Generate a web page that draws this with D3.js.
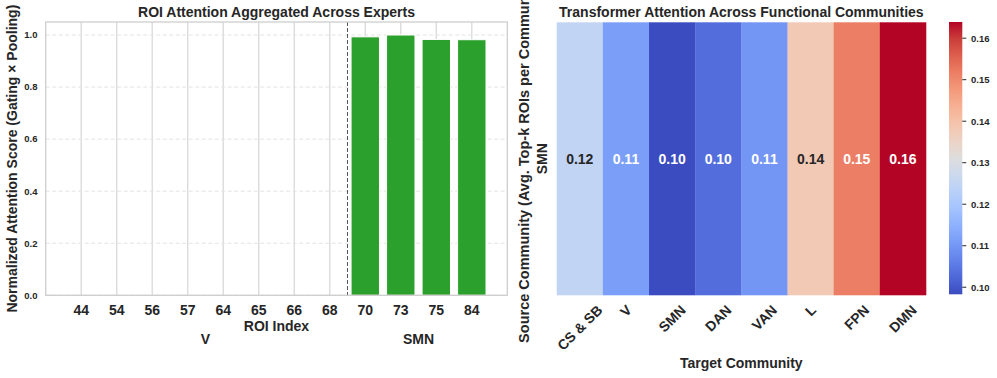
<!DOCTYPE html>
<html><head><meta charset="utf-8">
<title>ROI attention and community attention</title>
<script src="https://cdn.jsdelivr.net/npm/d3@7"></script>
<style>
  body { margin: 0; background: #fff; }
  svg text { font-family: "Liberation Sans", Arial, sans-serif; font-weight: bold; fill: #262626; }
</style>
</head>
<body>
<svg id="fig" width="997" height="378"></svg>
<script>
// ---- data ----
var roiIndex = ["44", "54", "56", "57", "64", "65", "66", "68", "70", "73", "75", "84"];
var roiGroup = ["V", "V", "V", "V", "V", "V", "V", "V", "SMN", "SMN", "SMN", "SMN"];
var roiScore = [0, 0, 0, 0, 0, 0, 0, 0, 0.993, 1.0, 0.983, 0.982];
var yTicksLeft = [0, 0.2, 0.4, 0.6, 0.8, 1.0];

var communities = ["CS & SB", "V", "SMN", "DAN", "VAN", "L", "FPN", "DMN"];
var smnAttention = [0.1249, 0.1114, 0.0983, 0.1034, 0.1098, 0.1379, 0.1516, 0.1639];
var sourceRow = ["SMN"];
var cbarTicks = [0.10, 0.11, 0.12, 0.13, 0.14, 0.15, 0.16];

// matplotlib coolwarm sampled every 1/16
var coolwarm = ["#3b4cc0", "#4e68d8", "#6282ea", "#779af7", "#8db0fe", "#a3c2fe", "#b8d0f9", "#ccd9ee",
  "#dddddd", "#ecd3c5", "#f5c4ad", "#f7b194", "#f49a7b", "#ec7f64", "#de604e", "#cb3e3b", "#b40426"];

var svg = d3.select("#fig");

//begin: left panel (bar chart)
var L = {left: 45.7, right: 507.3, top: 22, bottom: 295.3};
var x = d3.scaleLinear().domain([-1, 12]).range([L.left, L.right]);
var y = d3.scaleLinear().domain([0, 1.05]).range([L.bottom, L.top]);
var left = svg.append("g");

// vertical solid grid
left.selectAll(".vgrid").data(roiIndex).enter().append("line")
  .attr("x1", function(d, i){ return x(i); }).attr("x2", function(d, i){ return x(i); })
  .attr("y1", L.top).attr("y2", L.bottom)
  .attr("stroke", "#d9d9d9").attr("stroke-width", 1.3);
// horizontal dashed grid
left.selectAll(".hgrid").data(yTicksLeft).enter().append("line")
  .attr("x1", L.left).attr("x2", L.right)
  .attr("y1", function(d){ return y(d); }).attr("y2", function(d){ return y(d); })
  .attr("stroke", "#e3e3e3").attr("stroke-width", 1).attr("stroke-dasharray", "4,2.5");

// bars
left.selectAll(".bar").data(roiScore).enter().append("rect")
  .attr("x", function(d, i){ return x(i - 0.4); })
  .attr("width", x(0.8) - x(0))
  .attr("y", function(d){ return y(d); })
  .attr("height", function(d){ return y(0) - y(d); })
  .attr("fill", "#2ca02c").attr("stroke", "#fff").attr("stroke-width", 1);

// group separator
var firstSmn = roiGroup.indexOf("SMN");
left.append("line")
  .attr("x1", x(firstSmn - 0.5)).attr("x2", x(firstSmn - 0.5))
  .attr("y1", L.top).attr("y2", L.bottom)
  .attr("stroke", "#555").attr("stroke-width", 1).attr("stroke-dasharray", "4,2");

// spines
left.append("rect")
  .attr("x", L.left).attr("y", L.top)
  .attr("width", L.right - L.left).attr("height", L.bottom - L.top)
  .attr("fill", "none").attr("stroke", "#cccccc").attr("stroke-width", 1.25);

// ticks
left.selectAll(".xt").data(roiIndex).enter().append("text")
  .attr("x", function(d, i){ return x(i); }).attr("y", 314.5)
  .attr("text-anchor", "middle").style("font-size", "14px").text(function(d){ return d; });
left.selectAll(".yt").data(yTicksLeft).enter().append("text")
  .attr("x", 37.5).attr("y", function(d){ return y(d); }).attr("dy", "0.35em")
  .attr("text-anchor", "end").style("font-size", "9.5px").text(function(d){ return d.toFixed(1); });

// group labels
var groups = Array.from(new Set(roiGroup));
groups.forEach(function(g){
  var idx = roiGroup.map(function(v, i){ return v === g ? i : -1; }).filter(function(i){ return i >= 0; });
  var mid = (d3.min(idx) + d3.max(idx)) / 2;
  left.append("text").attr("x", x(mid)).attr("y", 344.3)
    .attr("text-anchor", "middle").style("font-size", "14px").text(g);
});

left.append("text").attr("x", (L.left + L.right) / 2).attr("y", 331)
  .attr("text-anchor", "middle").style("font-size", "14px").text("ROI Index");
left.append("text").attr("transform", "translate(17.3," + ((L.top + L.bottom) / 2) + ") rotate(-90)")
  .attr("text-anchor", "middle").style("font-size", "14px").text("Normalized Attention Score (Gating \u00d7 Pooling)");
left.append("text").attr("x", (L.left + L.right) / 2).attr("y", 17)
  .attr("text-anchor", "middle").style("font-size", "14px").text("ROI Attention Aggregated Across Experts");
//end: left panel

//begin: right panel (heatmap)
var R = {left: 556.7, right: 926, top: 22.3, bottom: 295.3};
var hx = d3.scaleBand().domain(communities).range([R.left, R.right]);
var hy = d3.scaleBand().domain(sourceRow).range([R.top, R.bottom]);
var ext = d3.extent(smnAttention);
var color = d3.scaleSequential(d3.interpolateRgbBasis(coolwarm)).domain(ext);
var right = svg.append("g");

// relative luminance, used to pick dark or white annotation text
function luminance(c) {
  var rgb = d3.rgb(c);
  var lin = [rgb.r, rgb.g, rgb.b].map(function(v){
    v = v / 255;
    return v <= 0.03928 ? v / 12.92 : Math.pow((v + 0.055) / 1.055, 2.4);
  });
  return 0.2126 * lin[0] + 0.7152 * lin[1] + 0.0722 * lin[2];
}

var cells = communities.map(function(c, i){ return {target: c, source: "SMN", v: smnAttention[i]}; });
right.selectAll(".cell").data(cells).enter().append("rect")
  .attr("x", function(d){ return hx(d.target); })
  .attr("y", function(d){ return hy(d.source); })
  .attr("width", hx.bandwidth() + 0.3).attr("height", hy.bandwidth())
  .attr("fill", function(d){ return color(d.v); });

right.selectAll(".ann").data(cells).enter().append("text")
  .attr("x", function(d){ return hx(d.target) + hx.bandwidth() / 2; })
  .attr("y", function(d){ return hy(d.source) + hy.bandwidth() / 2; })
  .attr("dy", "0.36em").attr("text-anchor", "middle").style("font-size", "14px")
  .style("fill", function(d){ return luminance(color(d.v)) > 0.408 ? "#262626" : "#ffffff"; })
  .text(function(d){ return d.v.toFixed(2); });

// rotated x tick labels, bounding box centred on the tick
right.selectAll(".hxt").data(communities).enter().append("text")
  .attr("text-anchor", "middle").attr("dy", "0.35em").style("font-size", "14px")
  .text(function(d){ return d; })
  .each(function(d){
    var w = this.getComputedTextLength(), h = 10;
    var box = (w + h) / Math.SQRT2;
    d3.select(this).attr("transform", "translate(" + (hx(d) + hx.bandwidth() / 2) + "," + (304 + box / 2) + ") rotate(-45)");
  });

right.append("text").attr("transform", "translate(546.5," + (hy("SMN") + hy.bandwidth() / 2) + ") rotate(-90)")
  .attr("text-anchor", "middle").style("font-size", "14px").text("SMN");
right.append("text").attr("transform", "translate(529.3," + ((R.top + R.bottom) / 2) + ") rotate(-90)")
  .attr("text-anchor", "middle").style("font-size", "14.5px").text("Source Community (Avg. Top-k ROIs per Community)");
right.append("text").attr("x", (R.left + R.right) / 2).attr("y", 368.3)
  .attr("text-anchor", "middle").style("font-size", "14px").text("Target Community");
right.append("text").attr("x", (R.left + R.right) / 2).attr("y", 17.3)
  .attr("text-anchor", "middle").style("font-size", "14px").text("Transformer Attention Across Functional Communities");

// colorbar
var C = {left: 949, right: 962.3, top: 22, bottom: 294.3};
var cy = d3.scaleLinear().domain(ext).range([C.bottom, C.top]);
var defs = svg.append("defs");
var grad = defs.append("linearGradient").attr("id", "cw").attr("x1", 0).attr("y1", 1).attr("x2", 0).attr("y2", 0);
grad.selectAll("stop").data(coolwarm).enter().append("stop")
  .attr("offset", function(d, i){ return i / (coolwarm.length - 1); })
  .attr("stop-color", function(d){ return d; });
right.append("rect").attr("x", C.left).attr("y", C.top)
  .attr("width", C.right - C.left).attr("height", C.bottom - C.top).attr("fill", "url(#cw)");
var cbAxis = right.append("g");
cbAxis.selectAll("line").data(cbarTicks).enter().append("line")
  .attr("x1", C.right).attr("x2", C.right + 4)
  .attr("y1", function(d){ return cy(d); }).attr("y2", function(d){ return cy(d); })
  .attr("stroke", "#262626").attr("stroke-width", 1);
cbAxis.selectAll("text").data(cbarTicks).enter().append("text")
  .attr("x", 971).attr("y", function(d){ return cy(d); }).attr("dy", "0.35em")
  .style("font-size", "9.5px").text(function(d){ return d.toFixed(2); });
//end: right panel
</script>
</body></html>
